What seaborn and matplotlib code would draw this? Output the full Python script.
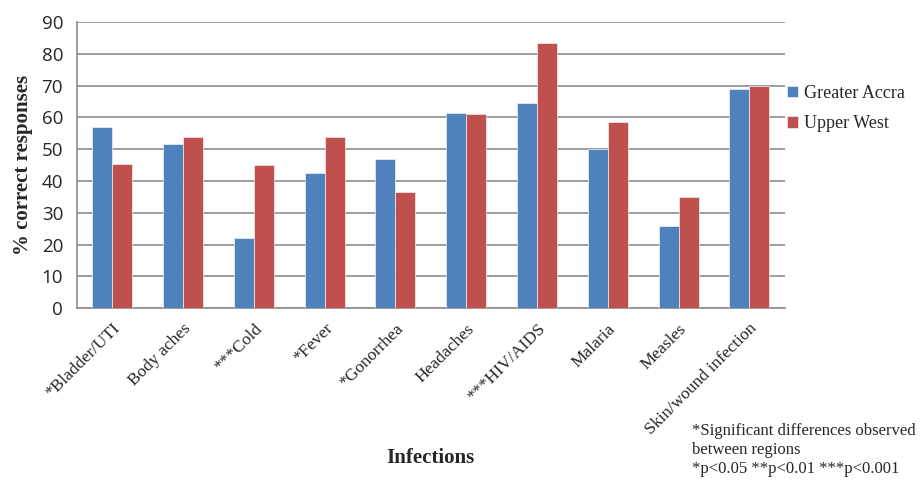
import matplotlib
matplotlib.use("Agg")
import matplotlib.pyplot as plt
import seaborn as sns
import pandas as pd

categories = ["*Bladder/UTI", "Body aches", "***Cold", "*Fever", "*Gonorrhea",
              "Headaches", "***HIV/AIDS", "Malaria", "Measles", "Skin/wound infection"]
greater_accra = [57, 51.5, 22, 42.5, 47, 61.5, 64.5, 50, 26, 69]
upper_west = [45.5, 54, 45, 54, 36.5, 61, 83.5, 58.5, 35, 70]
series_names = ["Greater Accra", "Upper West"]
y_ticks = [0, 10, 20, 30, 40, 50, 60, 70, 80, 90]

df = pd.DataFrame({
    "Infection": categories * 2,
    "Value": greater_accra + upper_west,
    "Region": [series_names[0]] * len(categories) + [series_names[1]] * len(categories),
})

sns.set_style("white")
fig = plt.figure(figsize=(9.21, 4.8), dpi=100)
ax = fig.add_axes([0.0836, 0.358, 0.7684, 0.596])

sns.barplot(data=df, x="Infection", y="Value", hue="Region", order=categories,
            hue_order=series_names, palette=["#4F81BD", "#C0504D"], width=0.565,
            saturation=1, ax=ax, legend=True, zorder=3, linewidth=0.5, edgecolor="#f0f0f0")

ax.set_ylim(0, 90)
ax.set_yticks(y_ticks)
ax.set_xlim(-0.5, len(categories) - 0.5)
ax.yaxis.grid(True, color="#8c8c8c", linewidth=1.2, zorder=0)
ax.set_axisbelow(True)
for s in ["top", "right"]:
    ax.spines[s].set_visible(False)
for s in ["left", "bottom"]:
    ax.spines[s].set_color("#8c8c8c")
    ax.spines[s].set_linewidth(1.2)
ax.tick_params(axis="y", length=6, color="#8c8c8c", width=1.2, labelsize=13.5, pad=4)
ax.tick_params(axis="x", length=0, pad=9)
for lbl in ax.get_yticklabels():
    lbl.set_family("Open Sans")
ax.set_xticks(range(len(categories)))
ax.set_xticklabels(categories, rotation=45, ha="right", rotation_mode="anchor",
                   family="Liberation Serif", fontsize=12.5)

ax.set_ylabel("% correct responses", family="Liberation Serif", fontweight="bold",
              fontsize=15, labelpad=6)
ax.set_xlabel("")
fig.text(0.467, 0.046, "Infections", family="Liberation Serif", fontweight="bold",
         fontsize=15, ha="center", va="center")

leg = ax.legend(loc="upper left", bbox_to_anchor=(0.985, 0.825), frameon=False,
                prop={"family": "Liberation Serif", "size": 13},
                handlelength=0.6, handleheight=0.6, handletextpad=0.35, labelspacing=0.75,
                borderaxespad=0.3)

fig.text(0.751, 0.118, "*Significant differences observed\nbetween regions\n*p<0.05 **p<0.01 ***p<0.001",
         family="Liberation Serif", fontsize=12, ha="left", va="top", linespacing=1.25)

fig.savefig("out.png", dpi=100)
